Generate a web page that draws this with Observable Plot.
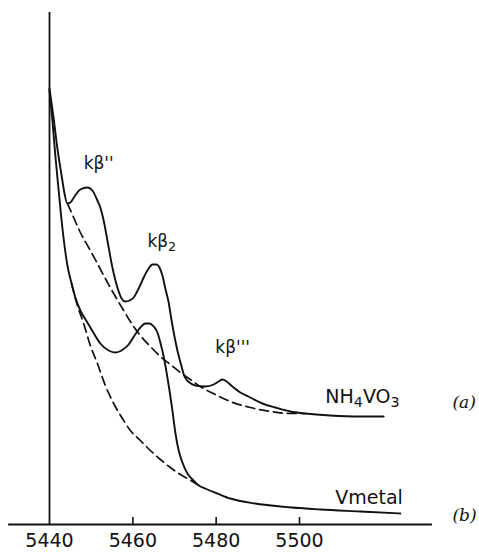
<!DOCTYPE html>
<html>
<head>
<meta charset="utf-8">
<script src="https://cdn.jsdelivr.net/npm/d3@7"></script>
<script src="https://cdn.jsdelivr.net/npm/@observablehq/plot@0.6"></script>
<style>
  html, body { margin: 0; padding: 0; background: #fff; }
</style>
</head>
<body>
<div id="chart"></div>
<script>
// Energy (eV) and intensity (arbitrary units)
const nh4Energy = [5440.0,5441.0,5441.9,5442.9,5443.6,5444.3,5445.0,5446.0,5447.4,5449.1,
  5450.3,5451.5,5452.2,5453.0,5453.9,5455.1,5456.3,5457.3,5458.2,5459.2,
  5460.2,5461.4,5462.6,5463.8,5464.7,5465.7,5466.4,5467.1,5467.8,5468.6,
  5469.3,5470.0,5470.7,5471.7,5472.4,5473.6,5475.0,5477.4,5479.4,5480.6,
  5481.5,5482.5,5483.9,5485.8,5488.2,5491.1,5494.2,5497.8,5501.4,5507.4,
  5514.6,5520.2];
const nh4Intensity = [436,406,376,349,331,321,322,328,335,337,
  334,324,317,304,284,257,237,226,223,224,
  227,236,247,256,260,260,257,249,236,222,
  204,188,174,158,148,142,139,138,140,143,
  145,143,138,132,127,121,117,113,111,109,
  108,108];

const nh4BgEnergy = [5444.3,5445.8,5447.4,5449.4,5451.5,5453.4,5455.4,5457.8,5459.4,5461.8,
  5464.2,5466.6,5469.0,5471.4,5473.8,5476.2,5479.8,5483.4,5488.2,5493.0,5497.8,5501.4];
const nh4BgIntensity = [321,307,292,277,261,246,231,214,203,189,
  178,168,160,152,145,138,130,123,117,113,111,111];

const vEnergy = [5440.0,5440.7,5441.4,5442.2,5442.9,5443.6,5444.3,5445.3,5446.2,5447.4,
  5449.1,5450.8,5452.2,5454.2,5455.8,5457.3,5459.0,5460.4,5461.8,5463.0,
  5464.0,5465.0,5465.9,5466.6,5467.4,5468.1,5468.8,5469.5,5470.2,5471.0,
  5471.9,5473.1,5474.3,5475.5,5477.9,5480.3,5483.4,5489.4,5495.4,5505.0,
  5514.6,5524.2];
const vIntensity = [434,404,369,334,304,279,259,241,227,214,
  202,190,181,174,172,174,180,189,197,201,
  201,198,192,182,168,152,134,114,92,74,
  62,51,45,40,35,31,26,21,18,15,
  13,11];

const vBgEnergy = [5445.3,5446.7,5448.2,5449.8,5451.5,5453.4,5455.4,5457.5,5459.4,5461.8,
  5464.2,5466.6,5469.0,5471.4,5473.1,5475.5];
const vBgIntensity = [241,219,201,179,161,139,121,106,94,84,
  74,65,57,50,46,40];

const tickValues = [5440, 5460, 5480, 5500];

const peakLabels = ["kβ''", "kβ₂", "kβ'''"];
const peakLabelEnergy = [5448.2, 5463.5, 5479.8];
const peakLabelIntensity = [361, 283, 177];

const sampleLabels = ["NH₄VO₃", "Vmetal"];
const sampleLabelEnergy = [5506.2, 5508.6];
const sampleLabelIntensity = [128, 27];

const panelLabels = ["(a)", "(b)"];
const panelLabelEnergy = [5536.7, 5536.7];
const panelLabelIntensity = [122, 9];

const ink = "#111";
const idx = a => a.map((_, i) => i);

const chart = Plot.plot({
  width: 479,
  height: 552,
  marginLeft: 49,
  marginRight: 180,
  marginTop: 12,
  marginBottom: 28,
  style: { fontFamily: "DejaVu Sans", background: "#fff", color: ink, overflow: "visible" },
  x: { domain: [5440, 5500], range: [49, 299] },
  y: { domain: [0, 512], axis: null },
  marks: [
    // axes
    Plot.ruleY([0], { x1: 5430.2, x2: 5531.9, stroke: ink, strokeWidth: 1.8 }),
    Plot.ruleX([5440], { y1: 0, y2: 512, stroke: ink, strokeWidth: 1.8 }),
    Plot.ruleX(tickValues.slice(1), { y1: 0, y2: 7, stroke: ink, strokeWidth: 1.6 }),
    Plot.axisX({ ticks: tickValues, tickSize: 0, tickPadding: 9, fontSize: 19,
                 tickFormat: d => String(d), label: null }),
    // curves
    Plot.line(idx(nh4Energy), { x: nh4Energy, y: nh4Intensity, curve: "monotone-x",
      stroke: ink, strokeWidth: 1.9 }),
    Plot.line(idx(nh4BgEnergy), { x: nh4BgEnergy, y: nh4BgIntensity, curve: "monotone-x",
      stroke: ink, strokeWidth: 1.7, strokeDasharray: "9,5" }),
    Plot.line(idx(vEnergy), { x: vEnergy, y: vIntensity, curve: "monotone-x",
      stroke: ink, strokeWidth: 1.9 }),
    Plot.line(idx(vBgEnergy), { x: vBgEnergy, y: vBgIntensity, curve: "monotone-x",
      stroke: ink, strokeWidth: 1.7, strokeDasharray: "9,5" }),
    // labels
    Plot.text(peakLabels, { x: peakLabelEnergy, y: peakLabelIntensity, text: d => d,
      textAnchor: "start", fontSize: 17, fill: ink }),
    Plot.text(sampleLabels, { x: sampleLabelEnergy, y: sampleLabelIntensity, text: d => d,
      textAnchor: "start", fontSize: 19, fill: ink }),
    Plot.text(panelLabels, { x: panelLabelEnergy, y: panelLabelIntensity, text: d => d,
      textAnchor: "start", fontSize: 17, fontStyle: "italic", fontFamily: "DejaVu Serif", fill: ink })
  ]
});

// Render Unicode subscript digits as real lowered, smaller digits
const subMap = { "₂": "2", "₃": "3", "₄": "4" };
chart.querySelectorAll("text").forEach(t => {
  const s = t.textContent;
  if (!/[₂₃₄]/.test(s)) return;
  t.textContent = "";
  let buf = "";
  const flush = () => { if (buf) { const ts = document.createElementNS("http://www.w3.org/2000/svg", "tspan"); ts.textContent = buf; t.appendChild(ts); buf = ""; } };
  for (const ch of s) {
    if (subMap[ch]) {
      flush();
      const sub = document.createElementNS("http://www.w3.org/2000/svg", "tspan");
      sub.setAttribute("baseline-shift", "-0.3em");
      sub.setAttribute("font-size", "75%");
      sub.textContent = subMap[ch];
      t.appendChild(sub);
    } else buf += ch;
  }
  flush();
});

document.getElementById("chart").appendChild(chart);
</script>
</body>
</html>
